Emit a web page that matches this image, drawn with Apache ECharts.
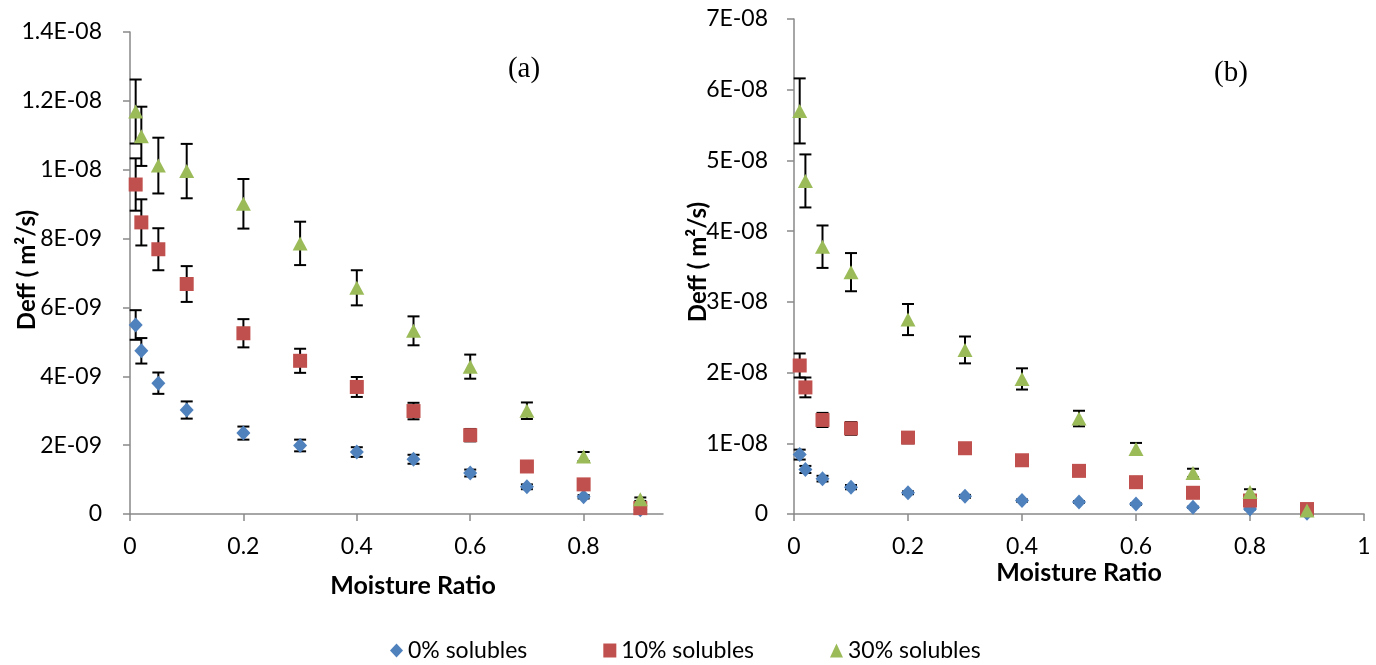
<!DOCTYPE html>
<html>
<head>
<meta charset="utf-8">
<title>Effective diffusivity vs moisture ratio</title>
<script src="https://cdn.jsdelivr.net/npm/echarts@6/dist/echarts.min.js"></script>
<style>
  html, body { margin: 0; padding: 0; background: #fff; }
  #chart { width: 1376px; height: 665px; }
</style>
</head>
<body>
<div id="chart"></div>
<script>
// Moisture ratio at which Deff was evaluated (same for every series)
const moisture = [0.01, 0.02, 0.05, 0.1, 0.2, 0.3, 0.4, 0.5, 0.6, 0.7, 0.8, 0.9];

// Panel (a): Deff (m²/s) and standard deviation
const solA0   = [5.49e-9, 4.74e-9, 3.80e-9, 3.02e-9, 2.35e-9, 1.99e-9, 1.80e-9, 1.59e-9, 1.19e-9, 0.79e-9, 0.50e-9, 0.12e-9];
const errA0   = [0.43e-9, 0.37e-9, 0.31e-9, 0.25e-9, 0.19e-9, 0.17e-9, 0.14e-9, 0.13e-9, 0.10e-9, 0.07e-9, 0.05e-9, 0.02e-9];
const solA10  = [9.57e-9, 8.47e-9, 7.69e-9, 6.68e-9, 5.25e-9, 4.45e-9, 3.69e-9, 2.99e-9, 2.29e-9, 1.38e-9, 0.86e-9, 0.17e-9];
const errA10  = [0.76e-9, 0.67e-9, 0.61e-9, 0.52e-9, 0.41e-9, 0.35e-9, 0.29e-9, 0.24e-9, 0.18e-9, 0.11e-9, 0.07e-9, 0.02e-9];
const solA30  = [11.69e-9, 10.97e-9, 10.12e-9, 9.96e-9, 9.01e-9, 7.86e-9, 6.57e-9, 5.32e-9, 4.28e-9, 3.00e-9, 1.67e-9, 0.43e-9];
const errA30  = [0.93e-9, 0.86e-9, 0.81e-9, 0.79e-9, 0.72e-9, 0.63e-9, 0.51e-9, 0.42e-9, 0.35e-9, 0.24e-9, 0.13e-9, 0.05e-9];

// Panel (b): Deff (m²/s) and standard deviation
const solB0   = [0.84e-8, 0.63e-8, 0.50e-8, 0.38e-8, 0.30e-8, 0.25e-8, 0.19e-8, 0.17e-8, 0.14e-8, 0.095e-8, 0.07e-8, 0.01e-8];
const errB0   = [0.07e-8, 0.05e-8, 0.04e-8, 0.03e-8, 0.02e-8, 0.02e-8, 0.015e-8, 0.012e-8, 0.01e-8, 0.008e-8, 0.005e-8, 0.001e-8];
const solB10  = [2.10e-8, 1.79e-8, 1.33e-8, 1.21e-8, 1.08e-8, 0.93e-8, 0.76e-8, 0.61e-8, 0.45e-8, 0.30e-8, 0.19e-8, 0.07e-8];
const errB10  = [0.17e-8, 0.14e-8, 0.10e-8, 0.09e-8, 0.08e-8, 0.07e-8, 0.06e-8, 0.05e-8, 0.035e-8, 0.025e-8, 0.015e-8, 0.005e-8];
const solB30  = [5.70e-8, 4.71e-8, 3.78e-8, 3.42e-8, 2.75e-8, 2.32e-8, 1.91e-8, 1.35e-8, 0.92e-8, 0.58e-8, 0.31e-8, 0.05e-8];
const errB30  = [0.46e-8, 0.375e-8, 0.30e-8, 0.27e-8, 0.22e-8, 0.19e-8, 0.15e-8, 0.11e-8, 0.085e-8, 0.06e-8, 0.04e-8, 0.005e-8];

// Axis ticks and labels
const xTicksA = [0, 0.2, 0.4, 0.6, 0.8];
const xTicksB = [0, 0.2, 0.4, 0.6, 0.8, 1];
const seriesNames = ['0% solubles', '10% solubles', '30% solubles'];
const xTitle = 'Moisture Ratio';
const yTitle = 'Deff ( m\u00B2/s)';
const panelLabels = ['(a)', '(b)'];

const COLORS = ['#4F81BD', '#C0504D', '#9BBB59'];
const SYMBOLS = ['diamond', 'rect', 'triangle'];
const SYMBOL_SIZES = [[14, 15], [14, 14], [15, 14]];
const FONT = 'Lato, "Open Sans", sans-serif';
const AXIS_COLOR = '#898989';

function points(ys) {
  return moisture.map((x, i) => [x, ys[i]]);
}
function errRanges(ys, es) {
  return moisture.map((x, i) => [x, ys[i] - es[i], ys[i] + es[i]]);
}

// Excel-like scientific label: 1.4E-08, 1E-08, 0
function sciLabel(v) {
  if (Math.abs(v) < 1e-20) return '0';
  const s = Number(v.toPrecision(6)).toExponential();
  const m = s.match(/^(-?[\d.]+)e([+-])(\d+)$/);
  if (!m) return s;
  const exp = m[3].length < 2 ? '0' + m[3] : m[3];
  return m[1] + 'E' + m[2] + exp;
}

// Vertical error bar with caps
function renderErr(params, api) {
  const x = api.value(0);
  const top = api.coord([x, api.value(2)]);
  const bot = api.coord([x, api.value(1)]);
  const hw = 6;
  const style = { stroke: '#000', lineWidth: 2 };
  return {
    type: 'group',
    children: [
      { type: 'line', shape: { x1: top[0], y1: top[1], x2: bot[0], y2: bot[1] }, style },
      { type: 'line', shape: { x1: top[0] - hw, y1: top[1], x2: top[0] + hw, y2: top[1] }, style },
      { type: 'line', shape: { x1: bot[0] - hw, y1: bot[1], x2: bot[0] + hw, y2: bot[1] }, style }
    ]
  };
}

function xAxis(gridIndex, max, ticks) {
  return {
    type: 'value', gridIndex, min: 0, max,
    axisLine: { show: true, onZero: false, lineStyle: { color: AXIS_COLOR, width: 1.5 } },
    axisTick: { show: true, inside: false, length: 7, customValues: ticks, lineStyle: { color: AXIS_COLOR, width: 1.5 } },
    axisLabel: { customValues: ticks, margin: 21, color: '#000', fontFamily: FONT, fontSize: 23 },
    splitLine: { show: false }
  };
}
function yAxis(gridIndex, max, interval, margin) {
  return {
    type: 'value', gridIndex, min: 0, max, interval,
    axisLine: { show: true, lineStyle: { color: AXIS_COLOR, width: 1.5 } },
    axisTick: { show: true, inside: false, length: 7, lineStyle: { color: AXIS_COLOR, width: 1.5 } },
    axisLabel: { margin, color: '#000', fontFamily: FONT, fontSize: 23, formatter: sciLabel },
    splitLine: { show: false }
  };
}

const panelA = [[solA0, errA0], [solA10, errA10], [solA30, errA30]];
const panelB = [[solB0, errB0], [solB10, errB10], [solB30, errB30]];

const series = [];
[panelA, panelB].forEach((panel, p) => {
  panel.forEach(([vals, errs], k) => {
    series.push({
      type: 'custom', name: 'sd-' + p + '-' + k,
      xAxisIndex: p, yAxisIndex: p,
      renderItem: renderErr,
      encode: { x: 0, y: [1, 2] },
      data: errRanges(vals, errs),
      z: 2, silent: true
    });
  });
  panel.forEach(([vals], k) => {
    series.push({
      type: 'scatter', name: seriesNames[k],
      xAxisIndex: p, yAxisIndex: p,
      symbol: SYMBOLS[k], symbolSize: SYMBOL_SIZES[k],
      itemStyle: { color: COLORS[k], opacity: 1 },
      data: points(vals),
      z: 3
    });
  });
});

const chart = echarts.init(document.getElementById('chart'), null, { renderer: 'canvas' });
chart.setOption({
  backgroundColor: '#fff',
  animation: false,
  grid: [
    { left: 130, top: 32, width: 533, height: 482 },
    { left: 794, top: 19, width: 570, height: 495 }
  ],
  xAxis: [xAxis(0, 0.94, xTicksA), xAxis(1, 1, xTicksB)],
  yAxis: [yAxis(0, 1.4e-8, 2e-9, 28), yAxis(1, 7e-8, 1e-8, 26)],
  legend: {
    left: 385, top: 634,
    itemGap: 76, itemWidth: 13, itemHeight: 14,
    textStyle: { fontFamily: FONT, fontSize: 23, color: '#000' },
    data: seriesNames.map((n, k) => ({ name: n, icon: SYMBOLS[k] }))
  },
  graphic: [
    { type: 'text', x: 524, y: 69, style: { text: panelLabels[0], font: '29px "Liberation Serif", serif', fill: '#000', align: 'center', verticalAlign: 'middle' } },
    { type: 'text', x: 1231, y: 73, style: { text: panelLabels[1], font: '29px "Liberation Serif", serif', fill: '#000', align: 'center', verticalAlign: 'middle' } },
    { type: 'text', x: 413, y: 586, style: { text: xTitle, font: 'bold 25px ' + FONT, fill: '#000', align: 'center', verticalAlign: 'middle' } },
    { type: 'text', x: 1079, y: 573, style: { text: xTitle, font: 'bold 25px ' + FONT, fill: '#000', align: 'center', verticalAlign: 'middle' } },
    { type: 'text', x: 27, y: 270, rotation: Math.PI / 2, style: { text: yTitle, font: 'bold 24px ' + FONT, fill: '#000', align: 'center', verticalAlign: 'middle' } },
    { type: 'text', x: 698, y: 262, rotation: Math.PI / 2, style: { text: yTitle, font: 'bold 24px ' + FONT, fill: '#000', align: 'center', verticalAlign: 'middle' } }
  ],
  series
});
</script>
</body>
</html>
